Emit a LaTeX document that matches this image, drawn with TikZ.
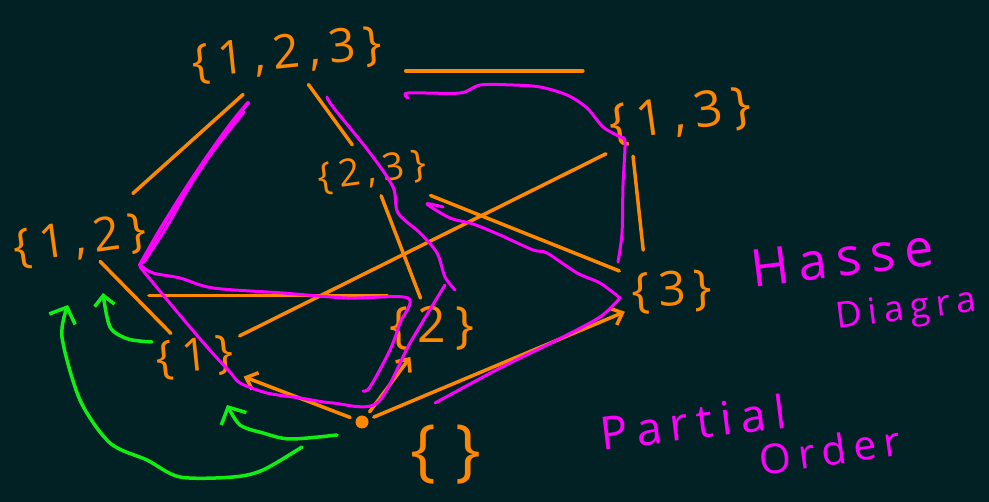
\documentclass[tikz,border=0pt]{standalone}
\usepackage{fontspec}
\newfontfamily\handfont[LetterSpace=18]{Open Sans}
\usepackage{tikz}
\usetikzlibrary{arrows.meta,calc}
\usepackage{xcolor}
\definecolor{board}{HTML}{012124}
\definecolor{penorange}{HTML}{FF8800}
\definecolor{penpink}{HTML}{FF00FF}
\definecolor{pengreen}{HTML}{11EE11}

\begin{document}
\begin{tikzpicture}[
  x=1pt, y=-1pt,
  setnode/.style={
    text=penorange, inner sep=2pt,
    font=\handfont\fontsize{#1}{#1}\selectfont
  },
  note/.style={
    text=penpink, inner sep=0pt,
    font=\handfont\fontsize{#1}{#1}\selectfont
  },
  edge/.style={penorange, line width=3.5pt, line cap=round,
    shorten <=6pt, shorten >=6pt},
  edgearr/.style={edge, -{Straight Barb[length=10pt,width=18pt]}},
  trace/.style={penpink, line width=3pt, line cap=round, line join=round},
  nudge/.style={pengreen, line width=3.5pt, line cap=round, line join=round,
    -{Straight Barb[length=13pt,width=28pt]}}
]

\fill[board] (0,0) rectangle (989,502);
\useasboundingbox (0,0) rectangle (989,502);

\node[setnode=47, rotate=6]  (s123) at (287,55)  {\{1,2,3\}};
\node[setnode=50, rotate=8]  (s13)  at (680,117) {\{1,3\}};
\node[setnode=38, rotate=8]  (s23)  at (372,172) {\{2,3\}};
\node[setnode=47, rotate=8]  (s12)  at (80,241)  {\{1,2\}};
\node[setnode=46, rotate=6]  (s1)   at (195,358) {\{1\}};
\node[setnode=50]            (s2)   at (432,328) {\{2\}};
\node[setnode=48, rotate=3]  (s3)   at (672,292) {\{3\,\}};
\node[circle, fill=penorange, inner sep=0pt, minimum size=13pt] (s0) at (362,422) {};
\node[setnode=68]            (s0lbl) at (446,455) {\{\;\}};

\node[note=52, rotate=7]  (hasse)   at (842,258) {Hasse};
\node[note=36, rotate=7, anchor=west] (diagram) at (836,320) {Diagra};
\node[note=46, rotate=7]  (partial) at (693,422) {Partial};
\node[note=41, rotate=8]  (order)   at (830,450) {Order};

\draw[edge, shorten <=20pt, shorten >=30pt] (s123) -- (s12);
\draw[edge, shorten <=10pt, shorten >=12pt] (s123) -- (s23);
\draw[edge, shorten <=22pt, shorten >=24pt]
  ([yshift=-26pt]s123.east) -- ([yshift=-26pt]s123.east -| s13.west);
\draw[edge] (s13) -- (s1);
\draw[edge, shorten <=8pt, shorten >=20pt]
  ($(s13.south west)!0.3!(s13.south)$) -- ($(s3.north west)!0.4!(s3.north)$);
\draw[edge, shorten <=25pt, shorten >=10pt] (s23) -- (s3);
\draw[edge] (s23) -- (s2);
\draw[edge, shorten <=0pt] (s12) -- (s1);
\draw[edge, shorten <=0pt, shorten >=0pt]
  ([yshift=8pt]s2.north west) -- ([yshift=8pt]s2.north west -| s12.east);
\draw[edgearr] (s0) -- (s1);
\draw[edgearr] (s0) -- (s2);
\draw[edgearr] (s0) -- (s3);

\draw[trace, line width=4pt] plot[smooth, tension=0.5] coordinates {
  (248,103) (230,125) (205,160) (185,190) (160,230) (140,265)};
\draw[trace] plot[smooth, tension=0.5] coordinates {
  (244,112) (214,150) (190,186) (166,228) (144,262)};
\draw[trace] plot[smooth, tension=0.5] coordinates {
  (140,265) (153,273) (180,278) (213,288) (283,293) (347,298) (408,298)
  (400,323) (390,350) (370,387) (363,391)};
\draw[trace] plot[smooth, tension=0.5] coordinates {
  (140,267) (173,307) (207,347) (230,372) (240,383) (267,393) (300,398)
  (333,403) (377,403) (410,343) (445,285)};
\draw[trace] plot[smooth, tension=0.5] coordinates {
  (327,97) (333,107) (370,153) (393,187) (398,213) (420,233) (437,253)
  (445,277) (455,290)};
\draw[trace] plot[smooth, tension=0.5] coordinates {
  (408,98) (408,93) (460,93) (480,85) (513,85) (540,87) (567,95) (587,108)
  (603,127) (620,137) (625,142) (623,185) (622,233) (618,262)};
\draw[trace] plot[smooth, tension=0.5] coordinates {
  (443,207) (427,204) (450,218) (473,224) (500,235) (533,250) (547,253)
  (577,273) (600,283) (620,298)};
\draw[trace] plot[smooth, tension=0.5] coordinates {
  (435,403) (500,368) (557,340) (600,317) (620,298)};

\draw[nudge] plot[smooth, tension=0.5] coordinates {
  (302,447) (263,470) (233,477) (180,477) (147,460) (110,443) (80,400)
  (62,337) (68,305)};
\draw[nudge] plot[smooth, tension=0.5] coordinates {
  (337,435) (290,439) (263,433) (240,425) (227,405)};
\draw[nudge, -{Straight Barb[length=10pt,width=20pt]}] plot[smooth, tension=0.5] coordinates {
  (152,342) (128,339) (110,327) (103,293)};

\end{tikzpicture}
\end{document}
